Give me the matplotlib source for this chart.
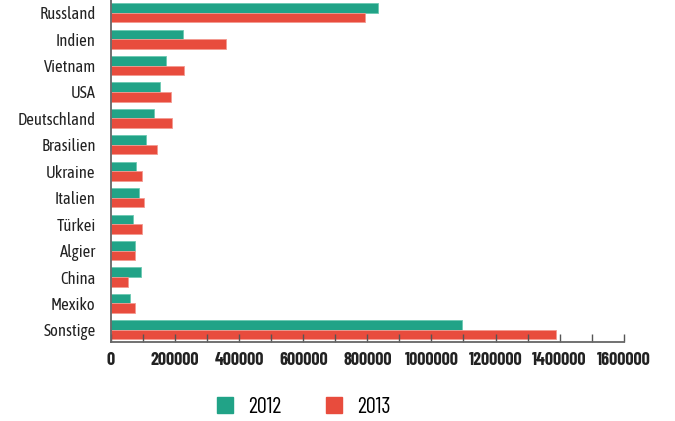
import matplotlib.pyplot as plt
import numpy as np
from matplotlib.patches import Patch
from matplotlib.ticker import MultipleLocator, FuncFormatter

# Daten
laender = ["Russland", "Indien", "Vietnam", "USA", "Deutschland", "Brasilien",
           "Ukraine", "Italien", "Türkei", "Algier", "China", "Mexiko", "Sonstige"]
werte_2012 = [832000, 224000, 172000, 154000, 133000, 109000,
              79000, 86500, 69600, 75800, 92700, 59300, 1096000]
werte_2013 = [792000, 358000, 227000, 188000, 190000, 143000,
              97700, 104000, 96800, 75800, 54000, 74000, 1388000]

gruen = "#21A387"
rot = "#E84C3D"
fonts = ["Asap Condensed", "Barlow Semi Condensed", "DejaVu Sans"]
fonts_eng = ["Barlow Condensed", "Asap Condensed", "DejaVu Sans"]

fig = plt.figure(figsize=(6.75, 4.21), dpi=100)
ax = fig.add_axes([111 / 675, 1 - 342.3 / 421, (623.7 - 111) / 675, 342.3 / 421])

y = np.arange(len(laender))
h = 0.36
ax.barh(y - h / 2, werte_2012, height=h, color=gruen, edgecolor="#6cc9b2", linewidth=0.6)
ax.barh(y + h / 2, werte_2013, height=h, color=rot, edgecolor="#f39a90", linewidth=0.6)

ax.set_xlim(0, 1600000)
ax.set_ylim(len(laender) - 0.53, -0.48)
ax.set_yticks(y)
ax.set_yticklabels(laender, family=fonts, fontsize=12, color="#222222")

ax.xaxis.set_major_locator(MultipleLocator(200000))
ax.xaxis.set_minor_locator(MultipleLocator(100000))
ax.xaxis.set_major_formatter(FuncFormatter(lambda v, p: f"{int(v)}"))
for lab in ax.get_xticklabels():
    lab.set_family(fonts_eng)
    lab.set_fontweight("bold")
    lab.set_fontsize(13)
    lab.set_color("#222222")

ax.tick_params(axis="x", which="both", direction="in", length=6, width=1, color="#555555", pad=7)
ax.tick_params(axis="y", length=0, pad=11)

for s in ["top", "right"]:
    ax.spines[s].set_visible(False)
ax.spines["left"].set_color("#666666")
ax.spines["bottom"].set_color("#666666")
ax.spines["left"].set_linewidth(1.3)
ax.spines["bottom"].set_linewidth(1.3)

handles = [Patch(color=gruen, label="2012"), Patch(color=rot, label="2013")]
fig.legend(handles=handles, loc="center", bbox_to_anchor=(0.45, 0.033), ncol=2,
           frameon=False, prop={"family": fonts_eng, "size": 16},
           handlelength=0.72, handleheight=0.72, handletextpad=0.7, columnspacing=2.0)

fig.savefig("out.png", dpi=100)
